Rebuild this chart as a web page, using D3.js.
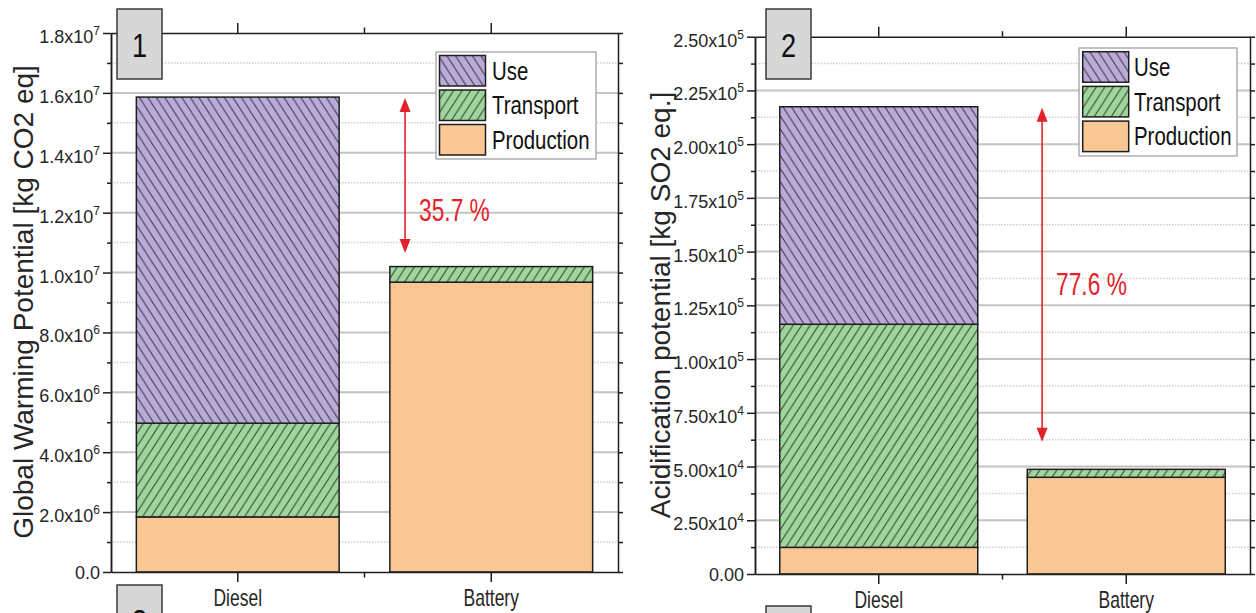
<!DOCTYPE html>
<html>
<head>
<meta charset="utf-8">
<script src="https://cdn.jsdelivr.net/npm/d3@7"></script>
<style>
  body { margin: 0; background: #fff; }
  svg { display: block; }
  text { font-family: "Liberation Sans", Arial, sans-serif; fill: #262626; }
</style>
</head>
<body>
<svg id="chart" width="1256" height="613"></svg>
<script>
// ---- data -------------------------------------------------------------
const categories = ["Diesel", "Battery"];
const stages = ["Production", "Transport", "Use"];
const legendLabels = ["Use", "Transport", "Production"];

// Global warming potential [kg CO2 eq]
const gwpProduction = [1.84e6, 9.68e6];
const gwpTransport  = [3.13e6, 0.52e6];
const gwpUse        = [1.089e7, 0];
const gwpTicks = [0, 2e6, 4e6, 6e6, 8e6, 1.0e7, 1.2e7, 1.4e7, 1.6e7, 1.8e7];
const gwpTickLabels = ["0.0", "2.0x10^6", "4.0x10^6", "6.0x10^6", "8.0x10^6",
                       "1.0x10^7", "1.2x10^7", "1.4x10^7", "1.6x10^7", "1.8x10^7"];
const gwpMinorTicks = [1e6, 3e6, 5e6, 7e6, 9e6, 1.1e7, 1.3e7, 1.5e7, 1.7e7];
const gwpArrow = [1.586e7, 1.065e7];   // arrow from / to (axis units)
const gwpLabelAt = 1.21e7;             // vertical anchor of the reduction label

// Acidification potential [kg SO2 eq.]
const apProduction = [1.24e4, 4.50e4];
const apTransport  = [1.038e5, 0.37e4];
const apUse        = [1.012e5, 0];
const apTicks = [0, 2.5e4, 5.0e4, 7.5e4, 1.0e5, 1.25e5, 1.5e5, 1.75e5, 2.0e5, 2.25e5, 2.5e5];
const apTickLabels = ["0.00", "2.50x10^4", "5.00x10^4", "7.50x10^4", "1.00x10^5", "1.25x10^5",
                      "1.50x10^5", "1.75x10^5", "2.00x10^5", "2.25x10^5", "2.50x10^5"];
const apMinorTicks = [1.25e4, 3.75e4, 6.25e4, 8.75e4, 1.125e5, 1.375e5, 1.625e5, 1.875e5, 2.125e5, 2.375e5];
const apArrow = [2.174e5, 6.15e4];
const apLabelAt = 1.35e5;

// ---- styles -----------------------------------------------------------
const fills = { Use: "#b9aad9", Transport: "#9fd69c", Production: "#f9c794" };
const hatchDir = { Use: "back", Transport: "fwd", Production: null };
const red = "#e3222a";
const ink = "#1e1e1e";
const narrow = 0.76;   // horizontal squeeze for the condensed labels

const svg = d3.select("#chart");
const defs = svg.append("defs");

// diagonal hatch fills
function makeHatch(id, color, dir) {
  const w = 8.5, h = w * 1.55;
  const p = defs.append("pattern").attr("id", id)
    .attr("patternUnits", "userSpaceOnUse").attr("width", w).attr("height", h);
  p.append("rect").attr("width", w).attr("height", h).attr("fill", color);
  if (!dir) return;
  for (let k = -1; k <= 1; k++) {
    const d = dir === "back"
      ? `M${k * w - w},${-h} L${k * w + 2 * w},${2 * h}`
      : `M${k * w - w},${2 * h} L${k * w + 2 * w},${-h}`;
    p.append("path").attr("d", d).attr("stroke", "#2a2a2a")
      .attr("stroke-width", 1).attr("stroke-opacity", 0.9);
  }
}
stages.forEach(s => makeHatch("fill-" + s, fills[s], hatchDir[s]));

// tick label with superscript exponent, e.g. "1.8x10^7"
function writeSci(sel, label) {
  const [m, e] = label.split("^");
  sel.text(null);
  sel.append("tspan").text(m);
  if (e) sel.append("tspan").attr("dy", -8).attr("font-size", 12).text(e);
}

function drawPanel(cfg) {
  const { x0, x1, y0, y1 } = cfg;
  const g = svg.append("g");

  const x = d3.scaleBand().domain(categories).range([x0, x1])
    .paddingInner(0.2).paddingOuter(0.1);
  const y = d3.scaleLinear().domain([0, cfg.ticks[cfg.ticks.length - 1]]).range([y1, y0]);

  // grid
  g.append("g").selectAll("line").data(cfg.minor).join("line")
    .attr("x1", x0).attr("x2", x1).attr("y1", d => y(d)).attr("y2", d => y(d))
    .attr("stroke", "#cfcfcf").attr("stroke-width", 1.5).attr("stroke-dasharray", "1.5,1.5");
  g.append("g").selectAll("line").data(cfg.ticks.slice(1, -1)).join("line")
    .attr("x1", x0).attr("x2", x1).attr("y1", d => y(d)).attr("y2", d => y(d))
    .attr("stroke", "#c4c4c4").attr("stroke-width", 2);

  // stacked bars
  const rows = categories.map((c, i) => ({
    cat: c, Production: cfg.production[i], Transport: cfg.transport[i], Use: cfg.use[i]
  }));
  const series = d3.stack().keys(stages)(rows);
  g.append("g").selectAll("g").data(series).join("g")
    .attr("fill", s => `url(#fill-${s.key})`)
    .selectAll("rect").data(s => s.filter(d => d[1] - d[0] > 0)).join("rect")
    .attr("x", d => x(d.data.cat)).attr("width", x.bandwidth())
    .attr("y", d => y(d[1])).attr("height", d => y(d[0]) - y(d[1]))
    .attr("stroke", ink).attr("stroke-width", 1.5);

  // axes
  const styleAxis = a => {
    a.selectAll(".domain").attr("stroke", ink).attr("stroke-width", 1.5);
    a.selectAll(".tick line").attr("stroke", ink).attr("stroke-width", 1.5);
  };
  const left = g.append("g").attr("transform", `translate(${x0},0)`)
    .call(d3.axisLeft(y).tickValues(cfg.ticks).tickSize(8).tickSizeOuter(0));
  left.selectAll(".tick text")
    .attr("x", -11).attr("dy", null)
    .attr("y", (d, i) => cfg.labels[i].includes("^") ? 9.5 : 6)
    .attr("font-size", 18).attr("font-family", "Liberation Sans, Arial, sans-serif")
    .attr("fill", "#222")
    .each(function (d, i) { writeSci(d3.select(this), cfg.labels[i]); });
  styleAxis(left);
  const leftMinor = g.append("g").attr("transform", `translate(${x0},0)`)
    .call(d3.axisLeft(y).tickValues(cfg.minor).tickSize(4).tickSizeOuter(0).tickFormat(""));
  styleAxis(leftMinor);

  const rightAx = g.append("g").attr("transform", `translate(${x1},0)`)
    .call(d3.axisRight(y).tickValues(cfg.ticks.concat(cfg.minor)).tickSize(5).tickSizeOuter(0).tickFormat(""));
  styleAxis(rightAx);

  const bottom = g.append("g").attr("transform", `translate(0,${y1})`)
    .call(d3.axisBottom(x).tickSize(10).tickSizeOuter(0));
  bottom.selectAll(".tick text")
    .attr("y", 34).attr("dy", null).attr("transform", `scale(${narrow},1)`)
    .attr("font-size", 23).attr("font-family", "Liberation Sans, Arial, sans-serif")
    .attr("fill", "#222");
  styleAxis(bottom);

  const top = g.append("g").attr("transform", `translate(0,${y0})`)
    .call(d3.axisTop(x).tickSize(10).tickSizeOuter(0).tickFormat(""));
  styleAxis(top);

  // minor x ticks between the categories
  const mid = (x(categories[0]) + x(categories[1]) + x.bandwidth()) / 2;
  [[y1, 1], [y0, -1]].forEach(([yy, s]) => {
    g.append("line").attr("x1", mid).attr("x2", mid).attr("y1", yy).attr("y2", yy + s * 5.5)
      .attr("stroke", ink).attr("stroke-width", 1.5);
  });

  // y-axis title
  g.append("text")
    .attr("transform", `translate(${cfg.titleX},${cfg.titleY}) rotate(-90)`)
    .attr("text-anchor", "middle").attr("font-size", 28)
    .text(cfg.title);

  // reduction arrow and label
  const ax = x0 + 0.58 * (x1 - x0);
  const ya = y(cfg.arrow[0]) + 1, yb = y(cfg.arrow[1]);
  const hl = 14, hw = 5.5;
  g.append("line").attr("x1", ax).attr("x2", ax).attr("y1", ya + hl - 1).attr("y2", yb - hl + 1)
    .attr("stroke", red).attr("stroke-width", 1.6);
  g.append("path").attr("d", `M${ax},${ya} L${ax - hw},${ya + hl} L${ax + hw},${ya + hl} Z`).attr("fill", red);
  g.append("path").attr("d", `M${ax},${yb} L${ax - hw},${yb - hl} L${ax + hw},${yb - hl} Z`).attr("fill", red);
  const totals = rows.map(r => r.Production + r.Transport + r.Use);
  const reduction = ((1 - totals[1] / totals[0]) * 100).toFixed(1) + " %";
  g.append("text")
    .attr("transform", `translate(${ax + 14},${y(cfg.labelAt) + 11.5}) scale(0.71,1)`)
    .attr("font-size", 32)
    .style("fill", red).text(reduction);

  // legend
  const L = cfg.legend;
  const lg = g.append("g").attr("transform", `translate(${L.x},${L.y})`);
  lg.append("rect").attr("width", L.w).attr("height", L.h)
    .attr("fill", "#fff").attr("stroke", "#9a9a9a").attr("stroke-width", 1.2);
  legendLabels.forEach((name, i) => {
    const yy = L.pad + i * L.step;
    lg.append("rect").attr("x", L.pad).attr("y", yy).attr("width", 46).attr("height", 30.5)
      .attr("fill", `url(#fill-${name})`).attr("stroke", ink).attr("stroke-width", 1.5);
    lg.append("text")
      .attr("transform", `translate(${L.textX},${yy + 15.25}) scale(0.8,1)`)
      .attr("dy", "0.35em").attr("font-size", 25.5)
      .style("fill", "#111")
      .text(name);
  });

  // panel number boxes
  cfg.boxes.forEach(b => {
    svg.append("rect").attr("x", b.x).attr("y", b.y).attr("width", 45).attr("height", 70)
      .attr("fill", "#d7d7d7").attr("stroke", "#3a3a3a").attr("stroke-width", 1.5);
    if (b.n) {
      svg.append("text")
        .attr("transform", `translate(${b.x + 22.5},${b.y + 48}) scale(0.8,1)`)
        .attr("text-anchor", "middle").attr("font-size", 34)
        .style("fill", "#111").text(b.n);
    }
  });
}

drawPanel({
  x0: 111, x1: 618, y0: 33, y1: 572,
  production: gwpProduction, transport: gwpTransport, use: gwpUse,
  ticks: gwpTicks, labels: gwpTickLabels, minor: gwpMinorTicks,
  arrow: gwpArrow, labelAt: gwpLabelAt,
  title: "Global Warming Potential [kg CO2 eq]", titleX: 33, titleY: 302,
  legend: { x: 436, y: 52, w: 160, h: 107, pad: 3.5, step: 34.5, textX: 56 },
  boxes: [{ x: 117, y: 9, n: "1" }, { x: 117, y: 585, n: "3" }]
});

drawPanel({
  x0: 755, x1: 1250, y0: 36.7, y1: 574,
  production: apProduction, transport: apTransport, use: apUse,
  ticks: apTicks, labels: apTickLabels, minor: apMinorTicks,
  arrow: apArrow, labelAt: apLabelAt,
  title: "Acidification potential [kg SO2 eq.]", titleX: 670, titleY: 305,
  legend: { x: 1079, y: 48, w: 158, h: 108, pad: 3.7, step: 34.7, textX: 55 },
  boxes: [{ x: 766, y: 9, n: "2" }, { x: 766, y: 606, n: null }]
});
</script>
</body>
</html>
